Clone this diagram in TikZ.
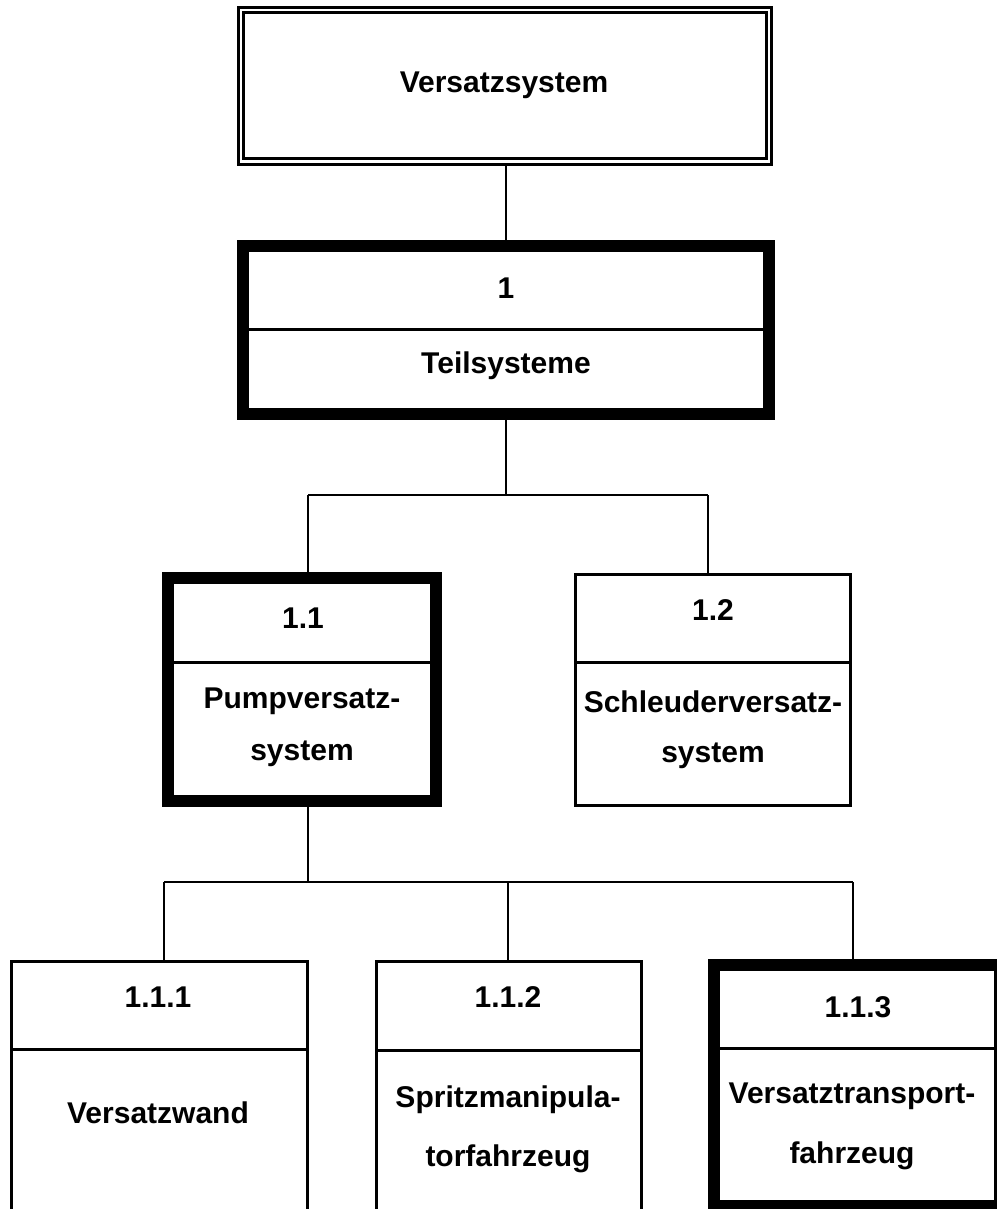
\documentclass[tikz,border=0pt]{standalone}
\usepackage{fontspec}
\setmainfont{Liberation Sans}
\begin{document}
\begin{tikzpicture}[x=1pt,y=-1pt,
  boxthin/.style={draw, rectangle, inner sep=0pt, line width=3pt},
  boxthick/.style={draw, rectangle, inner sep=0pt, line width=12pt},
  lbl/.style={anchor=base, inner sep=0pt, font=\fontsize{30}{36}\selectfont\bfseries},
  conn/.style={line width=2.5pt},
  divl/.style={line width=3pt}]
\useasboundingbox (0,0) rectangle (996,1209);
% top box (double border)
\node[boxthin, minimum width=533.5pt, minimum height=157pt] (top) at (504.75,86) {};
\node[boxthin, minimum width=522.5pt, minimum height=146pt] (topin) at (504.75,86) {};
\node[lbl] (ttop) at (504,93) {Versatzsystem};
% box 1
\node[boxthick, minimum width=526pt, minimum height=168pt] (b1) at (506,330) {};
\draw[divl] (b1.west |- 0,329) -- (b1.east |- 0,329);
\node[lbl] (t1a) at (506,298) {1};
\node[lbl] (t1b) at (506,373) {Teilsysteme};
% box 1.1
\node[boxthick, minimum width=268pt, minimum height=223pt] (b11) at (302,689.5) {};
\draw[divl] (b11.west |- 0,662) -- (b11.east |- 0,662);
\node[lbl] (t11a) at (303,628) {1.1};
\node[lbl] (t11b) at (302,708) {Pumpversatz-};
\node[lbl] (t11c) at (302,760) {system};
% box 1.2
\node[boxthin, minimum width=275pt, minimum height=231pt] (b12) at (713,690) {};
\draw[divl] (b12.west |- 0,662) -- (b12.east |- 0,662);
\node[lbl] (t12a) at (713,620) {1.2};
\node[lbl] (t12b) at (713,712) {Schleuderversatz-};
\node[lbl] (t12c) at (713,762) {system};
% box 1.1.1
\node[boxthin, minimum width=295.5pt, minimum height=268.5pt] (b111) at (159.25,1095.75) {};
\draw[divl] (b111.west |- 0,1049) -- (b111.east |- 0,1049);
\node[lbl] (t111a) at (158,1007) {1.1.1};
\node[lbl] (t111b) at (158,1123) {Versatzwand};
% box 1.1.2
\node[boxthin, minimum width=265pt, minimum height=268.5pt] (b112) at (509,1095.75) {};
\draw[divl] (b112.west |- 0,1050) -- (b112.east |- 0,1050);
\node[lbl] (t112a) at (508,1007) {1.1.2};
\node[lbl] (t112b) at (508,1107) {Spritzmanipula-};
\node[lbl] (t112c) at (508,1166) {torfahrzeug};
% box 1.1.3
\node[boxthick, minimum width=286pt, minimum height=241pt] (b113) at (857,1085.5) {};
\draw[divl] (b113.west |- 0,1048) -- (b113.east |- 0,1048);
\node[lbl] (t113a) at (858,1017) {1.1.3};
\node[lbl] (t113b) at (852,1103) {Versatztransport-};
\node[lbl] (t113c) at (852,1163) {fahrzeug};
% connectors
\coordinate (j0) at (507,495);
\coordinate (jl) at (308,495);
\coordinate (jr) at (708,495);
\draw[conn] (top.south -| b1.north) -- (b1.north);
\draw[conn] (b1.south) -- (b1.south |- j0);
\draw[conn] (jl) -- (jr);
\draw[conn] (jl) -- (jl |- b11.north);
\draw[conn] (jr) -- (jr |- b12.north);
\coordinate (k0) at (308,882);
\coordinate (kl) at (164,882);
\coordinate (km) at (508,882);
\coordinate (kr) at (853,882);
\draw[conn] (k0 |- b11.south) -- (k0);
\draw[conn] (kl) -- (kr);
\draw[conn] (kl) -- (kl |- b111.north);
\draw[conn] (km) -- (km |- b112.north);
\draw[conn] (kr) -- (kr |- b113.north);
\end{tikzpicture}
\end{document}
